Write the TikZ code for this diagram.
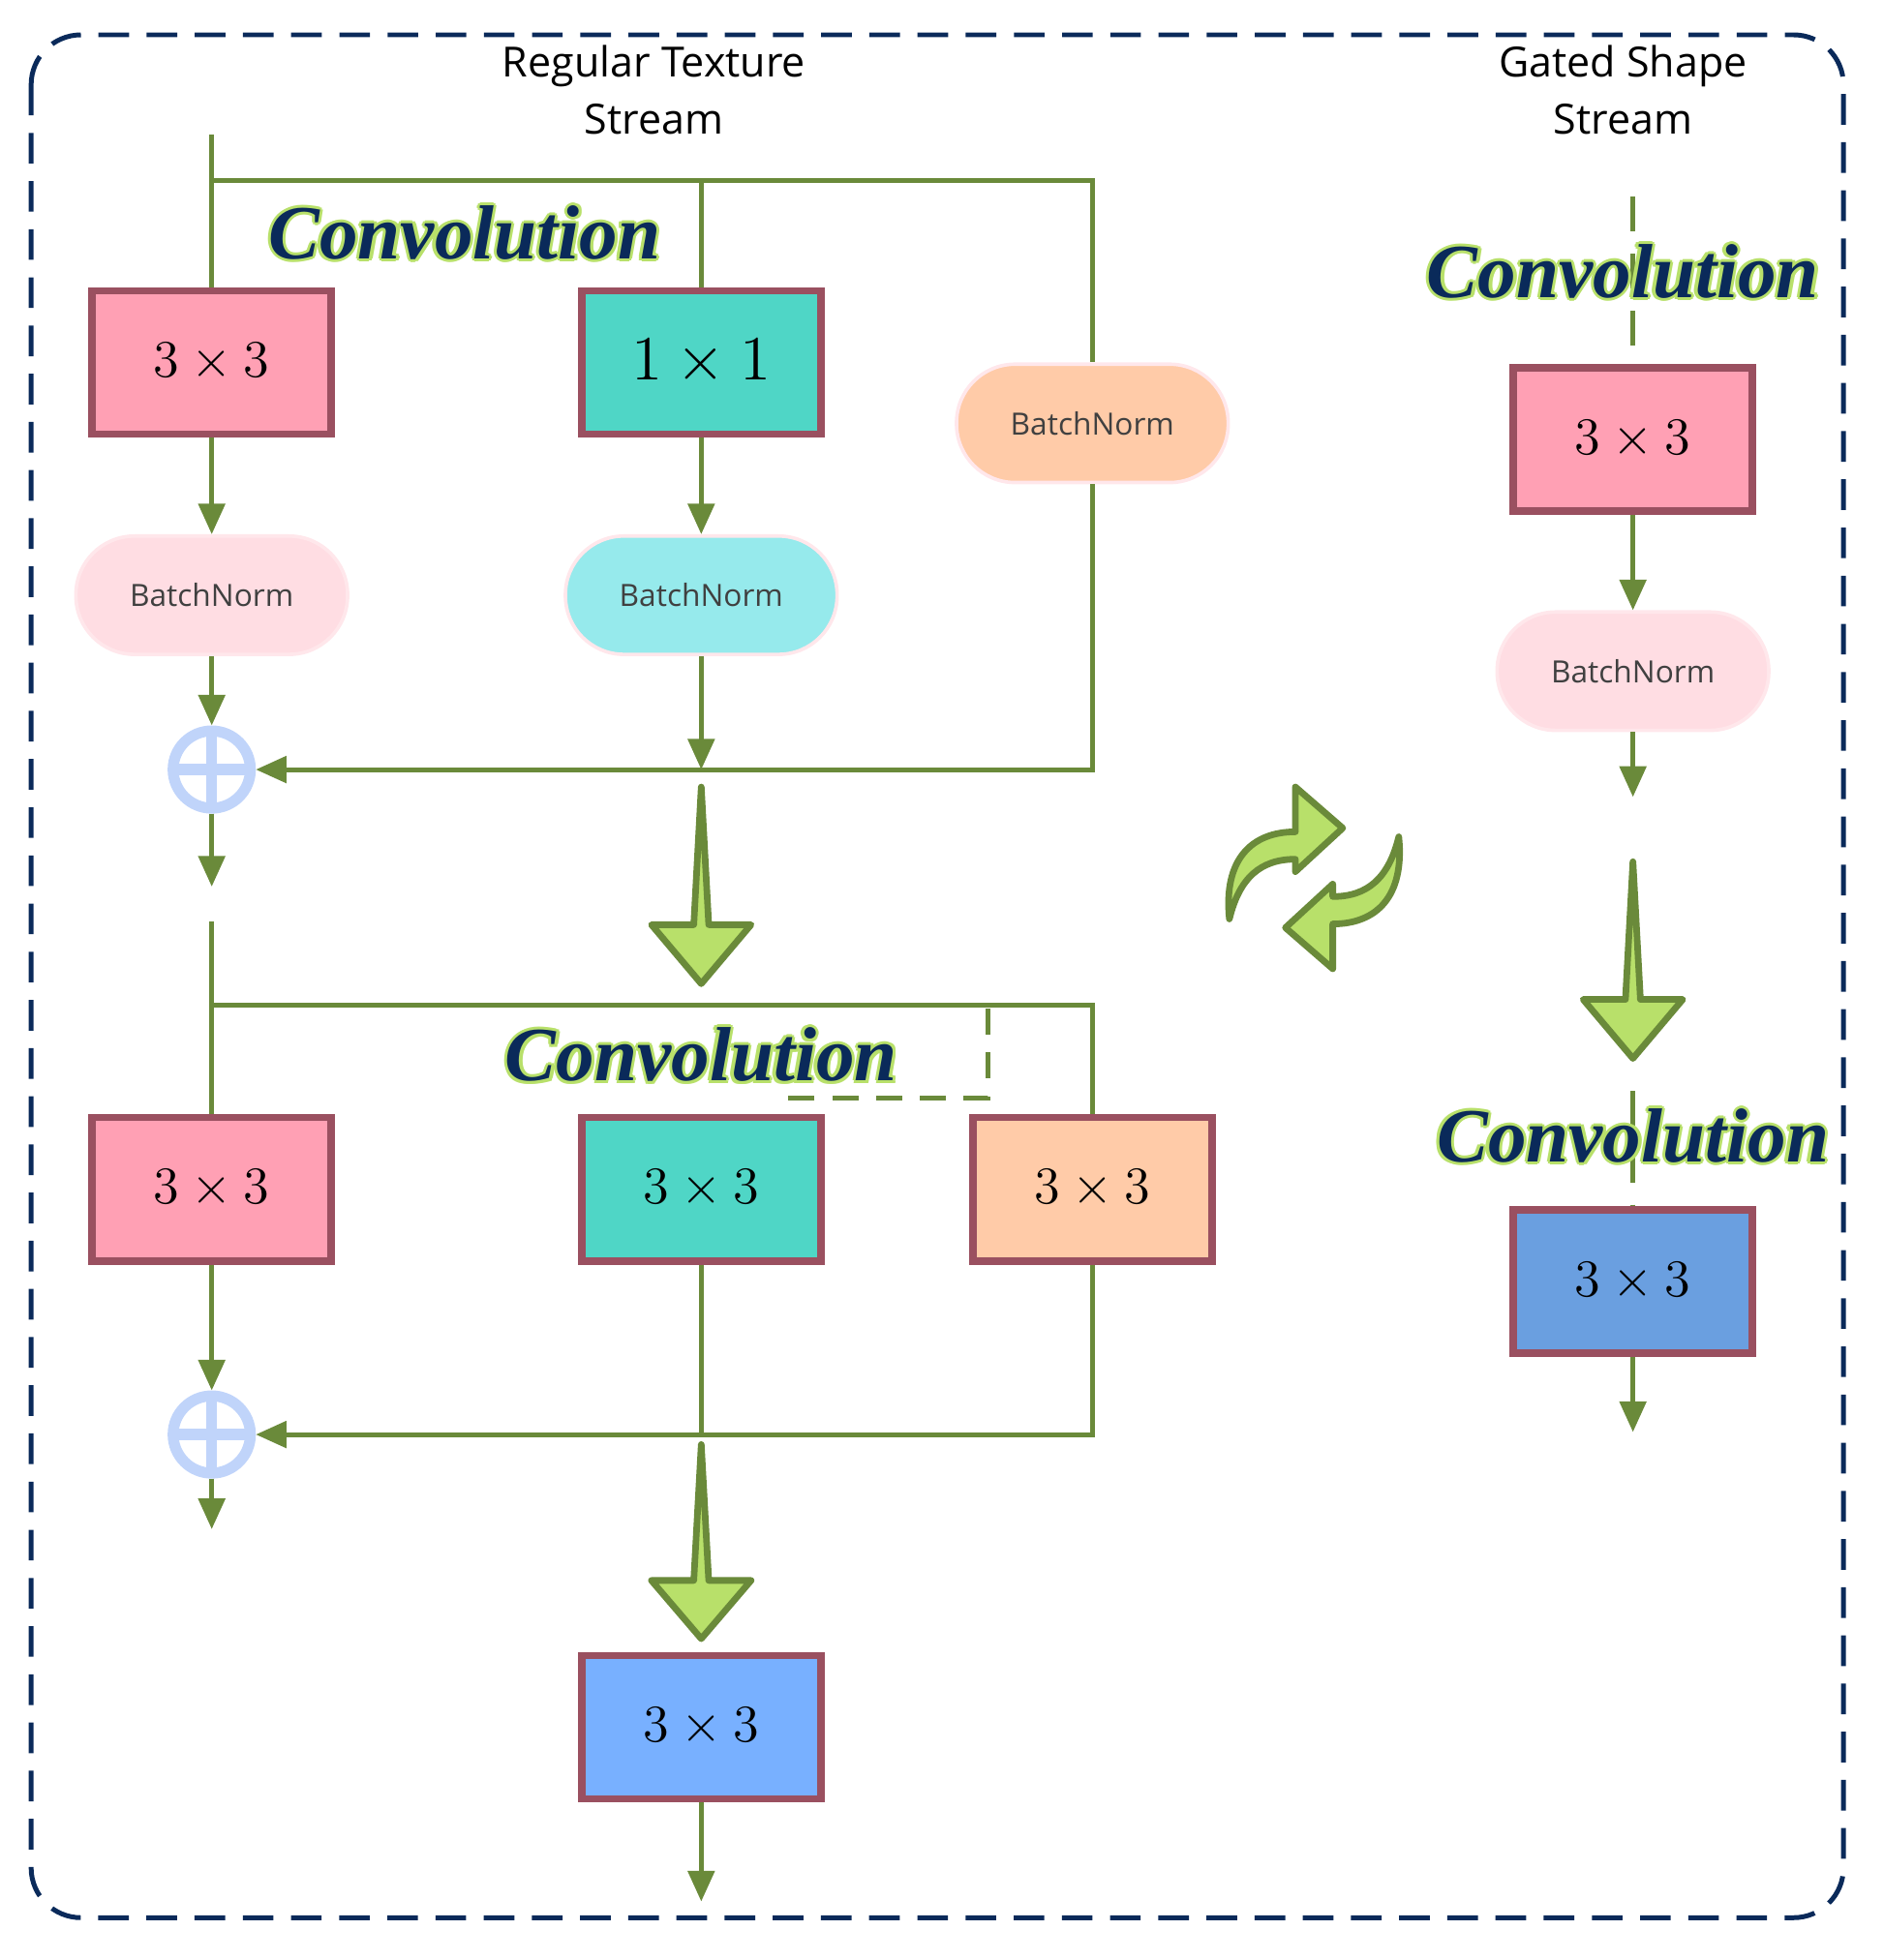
\documentclass[tikz,border=0pt]{standalone}
\usepackage{fontspec}
\setmainfont{Liberation Serif}
\newfontfamily\ttl{Open Sans}
\usetikzlibrary{arrows.meta,calc}
\definecolor{ln}{HTML}{6A8A3A}
\definecolor{bd}{HTML}{9A5060}
\definecolor{nv}{HTML}{0A2A5A}
\definecolor{pk}{HTML}{FFA0B4}
\definecolor{tl}{HTML}{4FD6C6}
\definecolor{og}{HTML}{FFCBA8}
\definecolor{pkl}{HTML}{FFDDE3}
\definecolor{cy}{HTML}{96EAEC}
\definecolor{bl}{HTML}{78B0FF}
\definecolor{bl2}{HTML}{6A9FE0}
\definecolor{ga}{HTML}{B8E06A}
\definecolor{ox}{HTML}{C0D4FA}
\tikzset{
 box/.style={draw=bd,line width=1.7pt,minimum width=1.92cm,minimum height=1.15cm,inner sep=0pt,font=\fontsize{13}{13}\selectfont},
 bn/.style={rectangle,rounded corners=0.47cm,draw=pkl!70!white,line width=0.8pt,minimum width=2.18cm,minimum height=0.95cm,font=\ttl\fontsize{7}{7}\selectfont,text=black!75},
 ln/.style={draw=ln,line width=1.1pt},
 ar/.style={ln,-{Triangle[length=7pt,width=6pt]}},
 op/.style={circle,draw=ox,line width=2.5pt,minimum size=0.62cm,inner sep=0pt},
 fat/.style={fill=ga,draw=ln,line width=1.5pt,line join=round},
 conv/.style={font=\bfseries\itshape\fontsize{17.5}{17.5}\selectfont,text=nv}
}
\newcommand{\Oplus}[2]{\node[op] (#1) at #2 {};
 \draw[ox,line width=2.5pt] ($(#1)+(-31,0)$)--($(#1)+(31,0)$) ($(#1)+(0,-31)$)--($(#1)+(0,31)$);}
\newcommand{\Conv}[2]{\foreach \dx/\dy in {2.5/0,-2.5/0,0/2.5,0/-2.5,1.8/1.8,-1.8/-1.8,1.8/-1.8,-1.8/1.8}{\node[conv,text=ga] at ($#2+(\dx,\dy)$) {Convolution};}\node[conv] (#1) at #2 {Convolution};}
\newcommand{\Fat}[3]{\draw[fat] (#1,#2) -- ({#1+6},{#2+0.7*(#3-#2)}) -- ({#1+40},{#2+0.7*(#3-#2)}) -- (#1,#3) -- ({#1-40},{#2+0.7*(#3-#2)}) -- ({#1-6},{#2+0.7*(#3-#2)}) -- cycle;}
\begin{document}
\begin{tikzpicture}[x=0.01cm,y=-0.01cm]
\useasboundingbox (0,0) rectangle (1512,1574);
\draw[nv,line width=1.1pt,dash pattern=on 7pt off 4pt,rounded corners=0.4cm] (25,28) rectangle (1480,1540);
\node[font=\ttl\fontsize{9.5}{13}\selectfont,align=center] (t1) at (525,72) {Regular Texture\\Stream};
\node[font=\ttl\fontsize{9.5}{13}\selectfont,align=center] (t2) at (1303,72) {Gated Shape\\Stream};
% top block
\node[box,fill=pk] (a1) at (170,291) {$3\times3$};
\node[box,fill=tl,font=\fontsize{14}{14}\selectfont] (a2) at (563,291) {$1\times1$};
\node[bn,fill=og] (a3) at (877,340) {BatchNorm};
\node[bn,fill=pkl] (b1) at (170,478) {BatchNorm};
\node[bn,fill=cy] (b2) at (563,478) {BatchNorm};
\Oplus{o1}{(170,618)}
\Conv{c1}{(373,187)}
\coordinate (s1) at (170,108);
\coordinate (h1) at (170,145);
\draw[ln] (s1)--(a1.north);
\draw[ln] (h1)--(877,145)--(a3.north);
\draw[ln] (563,145)--(a2.north);
\draw[ar] (a1.south)--(b1.north);
\draw[ar] (a2.south)--(b2.north);
\draw[ar] (b1.south)--(o1.north);
\coordinate (m1) at (563,618);
\draw[ar] (b2.south)--(m1);
\draw[ar] (a3.south)--(877,618)--(o1.east);
\coordinate (e1) at (170,712);
\draw[ar] (o1.south)--(e1);
\Fat{563}{632}{790}
% second block
\node[box,fill=pk] (d1) at (170,955) {$3\times3$};
\node[box,fill=tl] (d2) at (563,955) {$3\times3$};
\node[box,fill=og] (d3) at (877,955) {$3\times3$};
\Conv{c2}{(563,847)}
\coordinate (s2) at (170,740);
\draw[ln] (s2)--(d1.north);
\draw[ln] (170,807)--(877,807)--(d3.north);
\draw[ln,dash pattern=on 6pt off 4pt] (793,810)--(793,882)--(633,882);
\Oplus{o2}{(170,1152)}
\draw[ar] (d1.south)--(o2.north);
\draw[ln] (d2.south)--(563,1152);
\draw[ar] (d3.south)--(877,1152)--(o2.east);
\coordinate (e2) at (170,1228);
\draw[ar] (o2.south)--(e2);
\Fat{563}{1160}{1316}
\node[box,fill=bl] (f1) at (563,1387) {$3\times3$};
\coordinate (e3) at (563,1527);
\draw[ar] (f1.south)--(e3);
% right stream
\node[box,fill=pk] (g1) at (1311,353) {$3\times3$};
\node[bn,fill=pkl] (g2) at (1311,539) {BatchNorm};
\coordinate (s3) at (1311,158);
\draw[ln,dash pattern=on 8pt off 5pt] (s3)--(g1.north);
\Conv{c3}{(1303,218)}
\draw[ar] (g1.south)--(g2.north);
\coordinate (e4) at (1311,640);
\draw[ar] (g2.south)--(e4);
\Fat{1311}{692}{850}
\node[box,fill=bl2] (g3) at (1311,1029) {$3\times3$};
\draw[ln,dash pattern=on 8pt off 5pt] (1311,876)--(g3.north);
\Conv{c4}{(1311,912)}
\coordinate (e5) at (1311,1150);
\draw[ar] (g3.south)--(e5);
% cycle arrows
\draw[fat] (987,738) .. controls (982,690) and (1005,668) .. (1040,668) -- (1040,632) -- (1078,665) -- (1040,700) -- (1040,690) .. controls (1012,690) and (995,705) .. (987,738) -- cycle;
\draw[fat] (1123,672) .. controls (1128,720) and (1105,742) .. (1070,742) -- (1070,778) -- (1032,745) -- (1070,710) -- (1070,720) .. controls (1098,720) and (1115,705) .. (1123,672) -- cycle;
\end{tikzpicture}
\end{document}
